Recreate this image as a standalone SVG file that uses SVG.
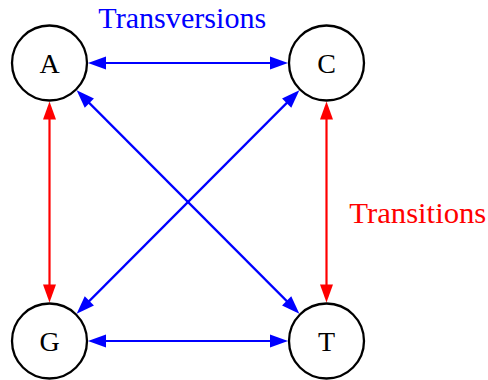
<svg xmlns="http://www.w3.org/2000/svg" width="488" height="380" viewBox="0 0 488 380">
  <style>
    .node circle { fill: #ffffff; stroke: #000000; stroke-width: 2.3; }
    .node text { font-family: "Liberation Serif", "DejaVu Serif", serif; font-size: 28px; text-anchor: middle; fill: #000000; }
    .label { font-family: "Liberation Serif", "DejaVu Serif", serif; font-size: 29px; }
    .tv { stroke: #0000ff; stroke-width: 2.2; fill: none; marker-start: url(#head-blue); marker-end: url(#head-blue); }
    .ts { stroke: #ff0000; stroke-width: 2.2; fill: none; marker-start: url(#head-red); marker-end: url(#head-red); }
  </style>
  <defs>
    <marker id="head-blue" markerUnits="userSpaceOnUse" markerWidth="20" markerHeight="14" refX="8" refY="6.5" orient="auto-start-reverse" overflow="visible">
      <path d="M0,0 L18,6.5 L0,13 Z" fill="#0000ff"/>
    </marker>
    <marker id="head-red" markerUnits="userSpaceOnUse" markerWidth="20" markerHeight="14" refX="8" refY="6.5" orient="auto-start-reverse" overflow="visible">
      <path d="M0,0 L18,6.5 L0,13 Z" fill="#ff0000"/>
    </marker>
  </defs>

  <!-- connectors: blue transversions, red transitions, double-headed -->
  <g id="connectors">
    <line class="tv" x1="98" y1="63" x2="278" y2="63"/>
    <line class="tv" x1="98" y1="341" x2="278" y2="341"/>
    <line class="tv" x1="83.7" y1="97.4" x2="292.3" y2="306.6"/>
    <line class="tv" x1="292.3" y1="97.4" x2="83.7" y2="306.6"/>
    <line class="ts" x1="49.5" y1="111.5" x2="49.5" y2="292.5"/>
    <line class="ts" x1="326.5" y1="111.5" x2="326.5" y2="292.5"/>
  </g>

  <!-- nodes -->
  <g id="node-A" class="node">
    <circle cx="49.5" cy="63" r="37.5"/>
    <text x="49.5" y="73">A</text>
  </g>
  <g id="node-C" class="node">
    <circle cx="326.5" cy="63" r="37.5"/>
    <text x="326.5" y="73">C</text>
  </g>
  <g id="node-G" class="node">
    <circle cx="49.5" cy="341" r="37.5"/>
    <text x="49.5" y="351">G</text>
  </g>
  <g id="node-T" class="node">
    <circle cx="326.5" cy="341" r="37.5"/>
    <text x="326.5" y="351">T</text>
  </g>

  <!-- labels -->
  <text class="label" x="98.3" y="28.3" fill="#0000ff" textLength="168" lengthAdjust="spacingAndGlyphs">Transversions</text>
  <text class="label" x="349.3" y="223.3" fill="#ff0000" textLength="137" lengthAdjust="spacingAndGlyphs">Transitions</text>
</svg>
